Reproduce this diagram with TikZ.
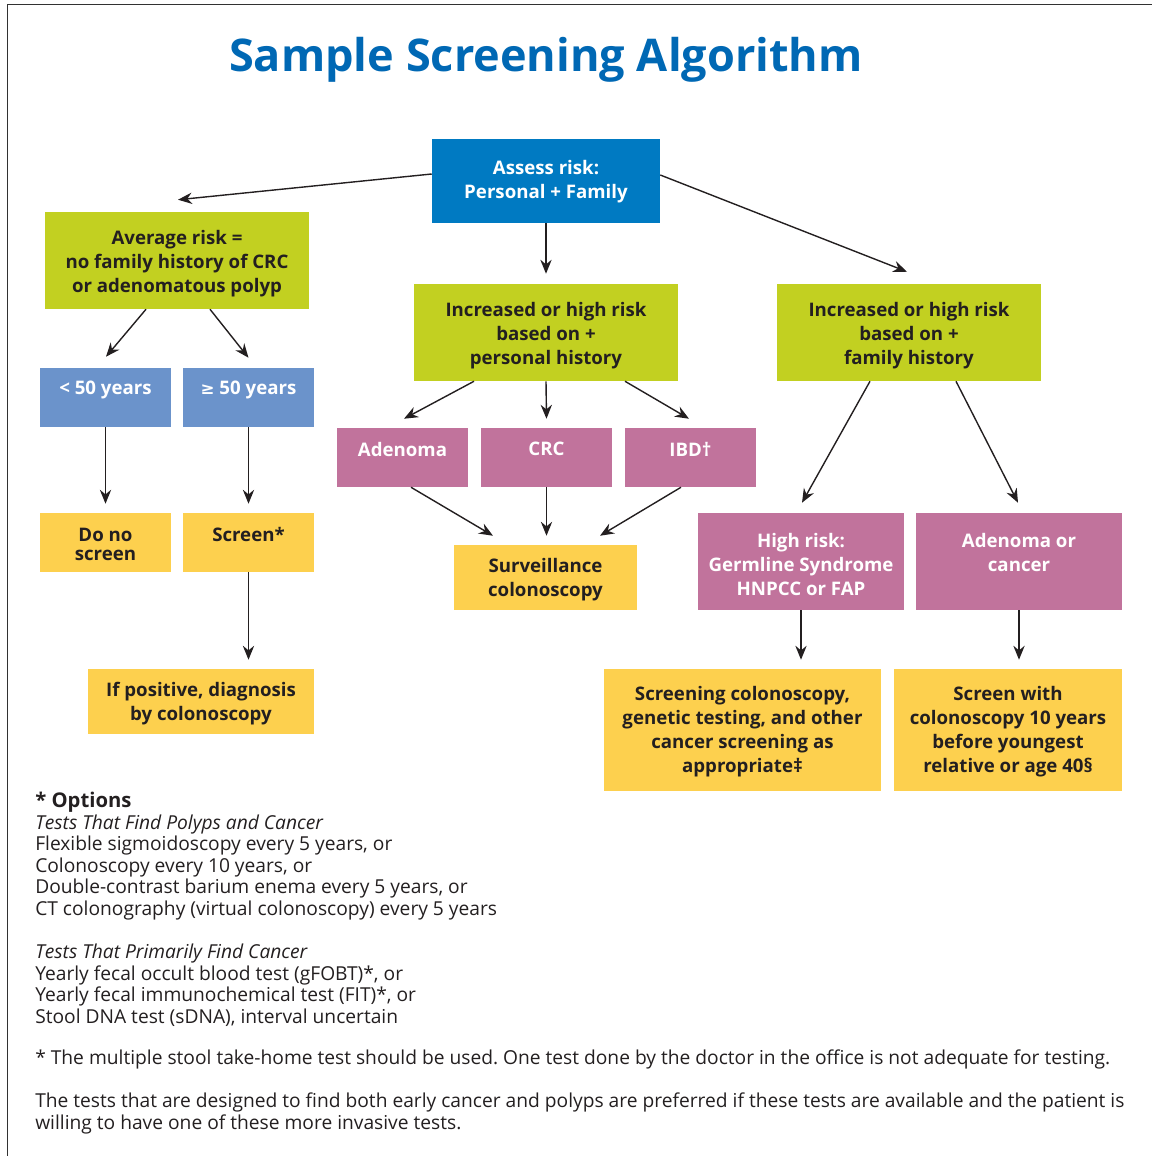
\documentclass[tikz,border=0pt]{standalone}
\usepackage{fontspec}
\setmainfont{Open Sans}
\usetikzlibrary{arrows.meta,calc}
\definecolor{titleblue}{RGB}{0,104,180}
\definecolor{assessblue}{RGB}{0,122,194}
\definecolor{riskgreen}{RGB}{194,208,33}
\definecolor{ageblue}{RGB}{107,147,203}
\definecolor{pink}{RGB}{193,115,156}
\definecolor{yell}{RGB}{253,208,78}
\definecolor{darktext}{RGB}{35,31,32}
\definecolor{bordc}{RGB}{50,50,50}
\frenchspacing
\begin{document}
\begin{tikzpicture}[x=0.75pt,y=-0.75pt,
  box/.style n args={3}{draw=none, fill=#3, minimum width=#1*0.75pt, minimum height=#2*0.75pt, inner sep=0pt},
  btext/.style={font=\fontsize{14}{18}\selectfont\bfseries, align=center, text=darktext, inner sep=0pt},
  wtext/.style={btext, text=white},
  body/.style={font=\fontsize{14.4}{16.1}\selectfont, align=left, text=darktext, inner sep=0pt, anchor=north west},
  arr/.style={draw=darktext, line width=1.05pt, -{Stealth[length=10.5pt,width=8.5pt,inset=3.5pt]}},
]
\useasboundingbox (0,0) rectangle (1152,1156);
\draw[bordc, line width=1.2pt] (7.5,1156) -- (7.5,4.5) -- (1152,4.5);

\node[font=\fontsize{33.8}{40}\selectfont\bfseries, text=titleblue] (title) at (546,60) {Sample Screening Algorithm};

% boxes
\node[box={228}{84}{assessblue}] (assess) at (546,181) {};
\node[box={264}{97}{riskgreen}] (avg) at (177,260.5) {};
\node[box={264}{97}{riskgreen}] (pers) at (546,332.5) {};
\node[box={264}{97}{riskgreen}] (fam) at (909,332.5) {};
\node[box={131}{59}{ageblue}] (lt) at (105.5,397.5) {};
\node[box={131}{59}{ageblue}] (ge) at (248.5,397.5) {};
\node[box={131}{59}{pink}] (ad) at (402.5,457.5) {};
\node[box={131}{59}{pink}] (crc) at (546.5,457.5) {};
\node[box={131}{59}{pink}] (ibd) at (690.5,457.5) {};
\node[box={131}{59}{yell}] (dono) at (105.5,542.5) {};
\node[box={131}{59}{yell}] (scr) at (248.5,542.5) {};
\node[box={183}{65}{yell}] (surv) at (545.5,577.5) {};
\node[box={226}{65}{yell}] (ifpos) at (201,701.5) {};
\node[box={206}{97}{pink}] (hr) at (801,561.5) {};
\node[box={206}{97}{pink}] (ac) at (1019,561.5) {};
\node[box={277}{122}{yell}] (scol) at (742.5,730) {};
\node[box={228}{122}{yell}] (sw) at (1008,730) {};

% texts
\node[wtext] (assessT) at (546,182) {Assess risk:\\Personal + Family};
\node[btext] (avgT) at (177,264) {Average risk =\\no family history of CRC\\or adenomatous polyp};
\node[btext] (persT) at (546,336) {Increased or high risk\\based on +\\personal history};
\node[btext] (famT) at (909,336) {Increased or high risk\\based on +\\family history};
\node[wtext] (ltT) at (105.5,390) {< 50 years};
\node[wtext] (geT) at (248.5,390) {{\fontspec{DejaVu Sans}\fontsize{12.5}{16}\selectfont ≥} 50 years};
\node[wtext] (adT) at (402.5,449) {Adenoma};
\node[wtext] (crcT) at (546.5,449) {CRC};
\node[wtext] (ibdT) at (690.5,449) {IBD†};
\node[btext, font=\fontsize{14}{14.3}\selectfont\bfseries] (donoT) at (105.5,544) {Do no\\screen};
\node[btext] (scrT) at (248.5,534) {Screen*};
\node[btext] (survT) at (545.5,580) {Surveillance\\colonoscopy};
\node[btext] (ifposT) at (201,704) {If positive, diagnosis\\by colonoscopy};
\node[wtext] (hrT) at (801,564) {High risk:\\Germline Syndrome\\HNPCC or FAP};
\node[wtext] (acT) at (1019,552) {Adenoma or\\cancer};
\node[btext] (scolT) at (742.5,732) {Screening colonoscopy,\\genetic testing, and other\\cancer screening as\\appropriate‡};
\node[btext] (swT) at (1008,732) {Screen with\\colonoscopy 10 years\\before youngest\\relative or age 40§};

% arrows
\draw[arr] ($(assess.west)+(0,-7)$) -- ($(avg.north)+(1,-12)$);
\draw[arr] (assess.south) -- ($(pers.north)+(0,-10)$);
\draw[arr] ($(assess.east)+(0,-6)$) -- ($(fam.north)+(-2,-12)$);
\draw[arr] ($(avg.south)+(-31,0)$) -- ($(lt.north)+(0.5,-11)$);
\draw[arr] ($(avg.south)+(33,0)$) -- ($(ge.north)+(0,-10)$);
\draw[arr] (lt.south) -- ($(dono.north)+(0,-9)$);
\draw[arr] (ge.south) -- ($(scr.north)+(0,-9)$);
\draw[arr] (scr.south) -- ($(ifpos.north -| scr.south)+(0,-9)$);
\draw[arr] ($(pers.south)+(-72,0)$) -- ($(ad.north)+(1.5,-9)$);
\draw[arr] (pers.south) -- ($(crc.north)+(0,-9)$);
\draw[arr] ($(pers.south)+(79,0)$) -- ($(ibd.north)+(-1.5,-9)$);
\draw[arr] ($(ad.south)+(8.5,0)$) -- ($(surv.north)+(-52.5,-9)$);
\draw[arr] (crc.south) -- ($(crc.south |- surv.north)+(0,-9)$);
\draw[arr] ($(ibd.south)+(-9.5,0)$) -- ($(surv.north)+(54.5,-9)$);
\draw[arr] ($(fam.south)+(-39,0)$) -- ($(hr.north)+(1,-10)$);
\draw[arr] ($(fam.south)+(47,0)$) -- ($(ac.north)+(-1,-10)$);
\draw[arr] (hr.south) -- ($(scol.north -| hr.south)+(0,-9)$);
\draw[arr] (ac.south) -- ($(sw.north -| ac.south)+(0,-9)$);

% notes
\node[body] (opt1) at (35,792) {{\fontsize{15.2}{16.1}\selectfont\bfseries * Options}\\
\textit{Tests That Find Polyps and Cancer}\\
Flexible sigmoidoscopy every 5 years, or\\
Colonoscopy every 10 years, or\\
Double-contrast barium enema every 5 years, or\\
CT colonography (virtual colonoscopy) every 5 years};
\node[body] (opt2) at (35,944) {\textit{Tests That Primarily Find Cancer}\\
Yearly fecal occult blood test (gFOBT)*, or\\
Yearly fecal immunochemical test (FIT)*, or\\
Stool DNA test (sDNA), interval uncertain};
\node[body] (note1) at (35,1050) {* The multiple stool take-home test should be used. One test done by the doctor in the office is not adequate for testing.};
\node[body] (note2) at (35,1093) {The tests that are designed to find both early cancer and polyps are preferred if these tests are available and the patient is\\
willing to have one of these more invasive tests.};
\end{tikzpicture}
\end{document}
